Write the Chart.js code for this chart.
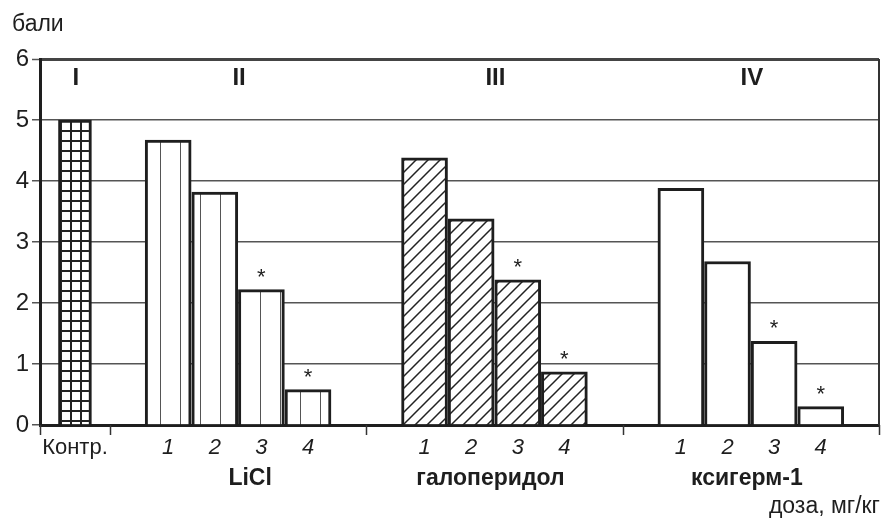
<!DOCTYPE html>
<html>
<head>
<meta charset="utf-8">
<script src="https://cdn.jsdelivr.net/npm/chart.js@4"></script>
<style>
  html, body { margin: 0; padding: 0; background: #fff; }
  canvas { display: block; }
</style>
</head>
<body>
<canvas id="myChart" width="893" height="520"></canvas>
<script>
// дані з рисунку (бали)
const romanLabels = ['I', 'II', 'III', 'IV'];
const controlLabel = ['Контр.'];
const doseLabels = ['1', '2', '3', '4'];
const drugNames = ['', 'LiCl', 'галоперидол', 'ксигерм-1'];
const controlValues = [5.0];
const liclValues = [4.67, 3.82, 2.22, 0.58];
const haloperidolValues = [4.38, 3.38, 2.38, 0.87];
const ksigermValues = [3.88, 2.68, 1.37, 0.30];
const controlStars = [false];
const doseStars = [false, false, true, true];

const FONT = '"Liberation Sans", Arial, sans-serif';
const INK = '#1e1e1e';

function makePattern(kind) {
  const s = kind === 'vert' ? 20 : kind === 'cross' ? 10 : 12;
  const c = document.createElement('canvas');
  c.width = s; c.height = s;
  const g = c.getContext('2d');
  g.fillStyle = '#fff';
  g.fillRect(0, 0, s, s);
  g.strokeStyle = '#222';
  g.beginPath();
  if (kind === 'cross') {
    g.lineWidth = 2;
    g.moveTo(1, 0); g.lineTo(1, s);
    g.moveTo(0, 1); g.lineTo(s, 1);
  } else if (kind === 'vert') {
    g.lineWidth = 1;
    g.strokeStyle = '#555';
    g.moveTo(0.5, 0); g.lineTo(0.5, s);
  } else if (kind === 'diag') {
    g.lineWidth = 1.5;
    g.moveTo(0, s); g.lineTo(s, 0);
    g.moveTo(-2, 2); g.lineTo(2, -2);
    g.moveTo(s - 2, s + 2); g.lineTo(s + 2, s - 2);
  }
  g.stroke();
  return g.createPattern(c, 'repeat');
}

// групи: контроль вузький, препарати по 11 "слотів", стовпчики через слот
const groups = [
  { values: controlValues, ticks: controlLabel, stars: controlStars, size: 3, first: 1, fill: makePattern('cross'), width: 33 },
  { values: liclValues, ticks: doseLabels, stars: doseStars, size: 11, first: 2, fill: makePattern('vert'), width: 46 },
  { values: haloperidolValues, ticks: doseLabels, stars: doseStars, size: 11, first: 2, fill: makePattern('diag'), width: 46 },
  { values: ksigermValues, ticks: doseLabels, stars: doseStars, size: 11, first: 2, fill: '#fff', width: 46 }
];

const labels = [];
let slot = 0;
groups.forEach(gr => {
  gr.start = slot;
  gr.slots = [];
  for (let i = 0; i < gr.size; i++) labels.push('');
  gr.values.forEach((v, k) => {
    const idx = slot + gr.first + 2 * k;
    labels[idx] = gr.ticks[k];
    gr.slots.push(idx);
  });
  slot += gr.size;
  gr.end = slot;
});
const total = slot;

const datasets = groups.map(gr => {
  const data = new Array(total).fill(null);
  gr.values.forEach((v, k) => { data[gr.slots[k]] = v; });
  return {
    data: data,
    backgroundColor: gr.fill,
    borderColor: INK,
    borderWidth: 3,
    barThickness: gr.width,
    grouped: false
  };
});

const extras = {
  id: 'extras',
  afterDraw(chart) {
    const ctx = chart.ctx;
    const area = chart.chartArea;
    const x = chart.scales.x;
    ctx.save();
    // права рамка
    ctx.strokeStyle = '#333';
    ctx.lineWidth = 2;
    ctx.beginPath();
    ctx.moveTo(area.right, area.top);
    ctx.lineTo(area.right, area.bottom);
    ctx.stroke();

    // поділки між групами
    ctx.strokeStyle = '#333';
    ctx.lineWidth = 1.5;
    const bounds = groups.map(g => g.start).concat([total]);
    bounds.forEach(b => {
      const px = Math.round(x.getPixelForValue(b - 0.5)) + 0.5;
      ctx.beginPath();
      ctx.moveTo(px, area.bottom);
      ctx.lineTo(px, area.bottom + 10);
      ctx.stroke();
    });

    ctx.fillStyle = INK;
    ctx.textAlign = 'center';
    groups.forEach((g, i) => {
      const cx = (x.getPixelForValue(g.start - 0.5) + x.getPixelForValue(g.end - 0.5)) / 2;
      ctx.font = 'bold 24px ' + FONT;
      ctx.textBaseline = 'middle';
      ctx.fillText(romanLabels[i], cx + 1, 78);
      if (drugNames[i]) {
        ctx.font = 'bold 23px ' + FONT;
        ctx.fillText(drugNames[i], cx + (i === 1 ? 12 : -4), 479);
      }
    });

    // зірочки
    ctx.font = '22px ' + FONT;
    ctx.textBaseline = 'alphabetic';
    groups.forEach((g, di) => {
      const meta = chart.getDatasetMeta(di);
      g.slots.forEach((s, k) => {
        if (!g.stars[k]) return;
        const bar = meta.data[s];
        ctx.fillText('*', bar.x, bar.y - 6);
      });
    });

    ctx.font = '23px ' + FONT;
    ctx.textBaseline = 'middle';
    ctx.textAlign = 'left';
    ctx.fillText('бали', 12, 25);
    ctx.textAlign = 'right';
    ctx.fillText('доза, мг/кг', area.right + 1, 507);
    ctx.restore();
  }
};

const ctx = document.getElementById('myChart');
new Chart(ctx, {
  type: 'bar',
  data: { labels: labels, datasets: datasets },
  options: {
    responsive: false,
    animation: false,
    devicePixelRatio: 1,
    layout: { padding: { top: 59, right: 14, left: 0, bottom: 0 } },
    plugins: { legend: { display: false }, tooltip: { enabled: false } },
    scales: {
      x: {
        afterFit: s => { s.height = 95; },
        grid: { display: false, drawTicks: false },
        border: { display: true, color: INK, width: 3 },
        ticks: {
          autoSkip: false,
          maxRotation: 0,
          padding: 10,
          color: INK,
          font: c => ({
            family: FONT,
            size: 22,
            style: (c.tick && c.tick.label === 'Контр.') ? 'normal' : 'italic'
          })
        }
      },
      y: {
        min: 0,
        max: 6,
        afterFit: s => { s.width = 40; },
        border: { display: true, color: INK, width: 3 },
        grid: {
          color: c => c.tick.value === 6 ? '#444' : '#555',
          lineWidth: c => c.tick.value === 6 ? 3 : 1.5,
          tickLength: 8,
          tickColor: '#555',
          tickWidth: 1.5
        },
        ticks: {
          stepSize: 1,
          padding: 3,
          color: INK,
          font: { family: FONT, size: 24 }
        }
      }
    }
  },
  plugins: [extras]
});
</script>
</body>
</html>
